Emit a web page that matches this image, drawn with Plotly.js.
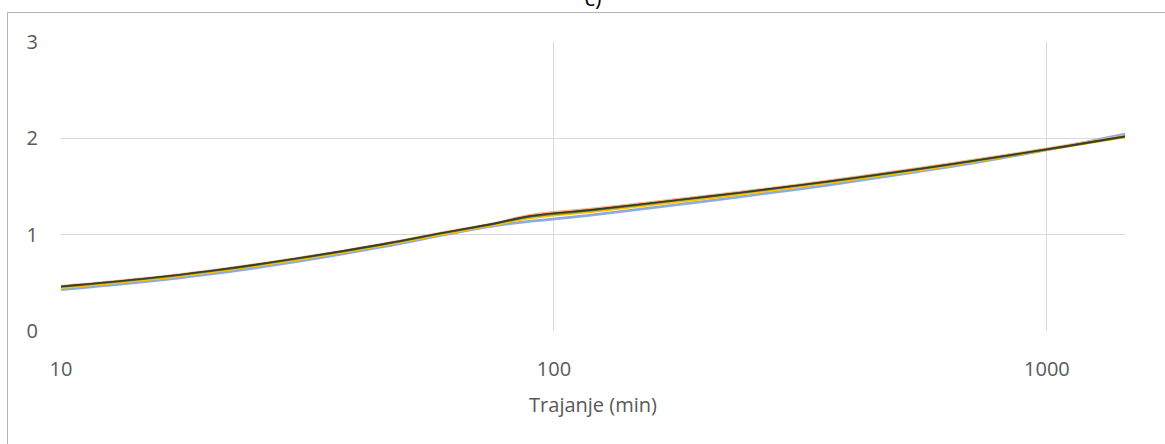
<!DOCTYPE html>
<html>
<head>
<meta charset="utf-8">
<script src="https://cdn.plot.ly/plotly-3.0.1.min.js"></script>
<style>
  html, body { margin: 0; padding: 0; background: #fff; overflow: hidden; }
  #chart { width: 1165px; height: 444px; position: relative; }
  #frame { position: absolute; left: 7px; top: 12px; width: 1200px; height: 500px;
           border-left: 1px solid #b4b4b4; border-top: 1px solid #b4b4b4; pointer-events: none; }
</style>
</head>
<body>
<div id="chart"></div>
<div id="frame"></div>
<script>
// Durations (min)
const durations = [10, 15, 20, 30, 45, 60, 75, 90, 120, 180, 240, 360, 540, 720, 1080, 1440];

// Series values
const seriesBlue   = [0.43, 0.515, 0.59, 0.72, 0.875, 1.0, 1.09, 1.14, 1.205, 1.315, 1.395, 1.515, 1.65, 1.75, 1.915, 2.045];
const seriesSalmon = [0.465, 0.55, 0.625, 0.755, 0.905, 1.025, 1.115, 1.205, 1.27, 1.37, 1.445, 1.56, 1.685, 1.78, 1.92, 2.025];
const seriesYellow = [0.45, 0.535, 0.61, 0.74, 0.89, 1.01, 1.10, 1.175, 1.24, 1.345, 1.42, 1.54, 1.665, 1.765, 1.91, 2.015];
const seriesGreen  = [0.46, 0.545, 0.62, 0.75, 0.90, 1.02, 1.11, 1.19, 1.255, 1.36, 1.435, 1.55, 1.675, 1.77, 1.912, 2.018];
const seriesDark   = [0.462, 0.547, 0.622, 0.752, 0.902, 1.022, 1.112, 1.195, 1.26, 1.363, 1.438, 1.552, 1.677, 1.772, 1.914, 2.02];

const seriesList = [
  { y: seriesBlue,   color: '#8faadc', width: 2.8 },
  { y: seriesSalmon, color: '#f4b183', width: 2.4 },
  { y: seriesYellow, color: '#ffc000', width: 2.6 },
  { y: seriesGreen,  color: '#5b7a2e', width: 2.2 },
  { y: seriesDark,   color: '#3a3a2c', width: 1.6 }
];

const traces = seriesList.map(s => ({
  x: durations, y: s.y, type: 'scatter', mode: 'lines',
  line: { color: s.color, width: s.width, shape: 'spline', smoothing: 1 },
  hoverinfo: 'skip', showlegend: false
}));

const xTickVals = [10, 100, 1000];
const xTickText = ['10', '100', '1000'];
const yTickVals = [0, 1, 2, 3];

const fontFam = 'Open Sans, Noto Sans, sans-serif';

const layout = {
  width: 1165, height: 444,
  margin: { l: 61, r: 40, t: 42, b: 113 },
  paper_bgcolor: '#ffffff', plot_bgcolor: '#ffffff',
  showlegend: false,
  title: {
    text: 'c)', x: 0.5, xref: 'paper', xanchor: 'center',
    y: 1 - 6/444, yref: 'container', yanchor: 'bottom',
    font: { family: fontFam, size: 22, color: '#000000' }
  },
  xaxis: {
    type: 'log', range: [1, Math.log10(1440)],
    tickvals: xTickVals, ticktext: xTickText,
    showgrid: true, gridcolor: '#d9d9d9', gridwidth: 1,
    zeroline: false, showline: false, ticks: '',
    ticklabelstandoff: 24,
    tickfont: { family: fontFam, size: 20, color: '#595959' },
    title: { text: 'Trajanje (min)', standoff: 16,
             font: { family: fontFam, size: 20, color: '#595959' } }
  },
  yaxis: {
    range: [0, 3], tickvals: yTickVals,
    showgrid: true, gridcolor: '#d9d9d9', gridwidth: 1,
    zeroline: false, showline: false, ticks: '',
    ticklabelstandoff: 22,
    tickfont: { family: fontFam, size: 20, color: '#595959' }
  }
};

Plotly.newPlot('chart', traces, layout, { staticPlot: true, displayModeBar: false });
</script>
</body>
</html>
